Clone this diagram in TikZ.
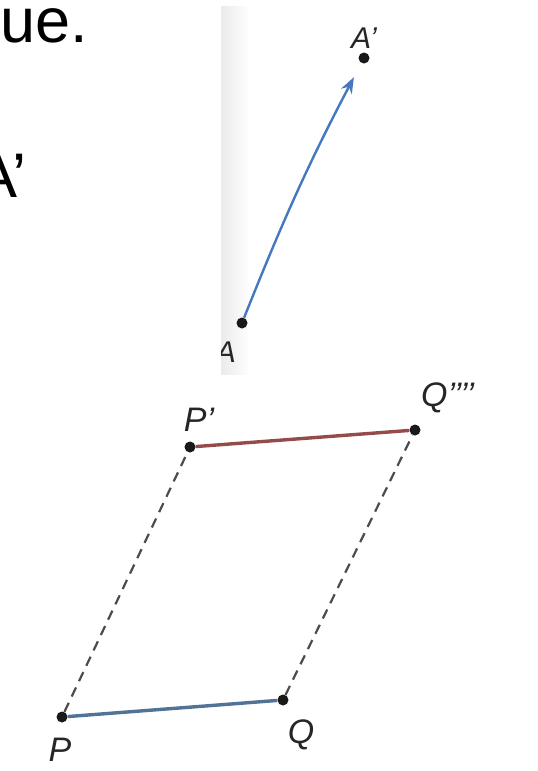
\documentclass[tikz,border=0pt]{standalone}
\usepackage{fontspec}
\setmainfont{Liberation Sans}
\usetikzlibrary{arrows.meta,positioning}
\definecolor{vecblue}{RGB}{70,120,190}
\definecolor{segblue}{RGB}{80,115,150}
\definecolor{segred}{RGB}{150,75,75}
\tikzset{
  dot/.style={circle, fill=black!90, inner sep=0pt, minimum size=11pt},
  lbl/.style={font=\fontsize{34}{34}\selectfont\itshape, text=black!85, inner sep=1pt},
  big/.style={font=\fontsize{63}{63}\selectfont, inner sep=0pt, anchor=base east},
  vec/.style={-{Stealth[length=16pt, width=12pt]}, vecblue, line width=2.4pt, shorten >=16pt},
  trace/.style={dash pattern=on 10pt off 7pt, black!70, line width=2.2pt},
  seg/.style={line width=3.4pt},
}
\begin{document}
\begin{tikzpicture}[x=1pt, y=-1pt]
\useasboundingbox (0,0) rectangle (538,771);
\fill[white] (0,0) rectangle (538,771);

% Cut-off text on the left
\node[big] (txtA) at (88,42) {ue.};
\node[big] (txtB) at (27,197) {A'};

% Scanned panel: vector AA'
\begin{scope}
  \clip (221,6) rectangle (538,374);
  \shade[left color=black!8, right color=white] (221,6) rectangle (250,374);
  \node[dot] (A) at (242,323) {};
  \node[dot] (Ap) at (364,58) {};
  \node[lbl, font=\fontsize{30}{30}\selectfont\itshape] (lA) at (226,352) {A};
  \node[lbl, font=\fontsize{30}{30}\selectfont\itshape, above=3pt of Ap] (lAp) {A'};
  \draw[vec] (A) to[bend left=3] (Ap);
\end{scope}

% Translated segment PQ -> P'Q''''
\node[dot] (P) at (62,717) {};
\node[dot] (Q) at (283,700) {};
\node[dot] (Pp) at (190,447) {};
\node[dot] (Qp) at (415,430) {};

\node[lbl] (lP) at (60,750) {P};
\node[lbl] (lQ) at (301,735) {Q};
\node[lbl] (lPp) at (199,420) {P'};
\node[lbl, anchor=west] (lQp) at (420,398) {Q{'}{'}{'}{'}};

\draw[trace] (P) -- (Pp);
\draw[trace] (Q) -- (Qp);
\draw[seg, segblue] (P) -- (Q);
\draw[seg, segred] (Pp) -- (Qp);

\end{tikzpicture}
\end{document}
